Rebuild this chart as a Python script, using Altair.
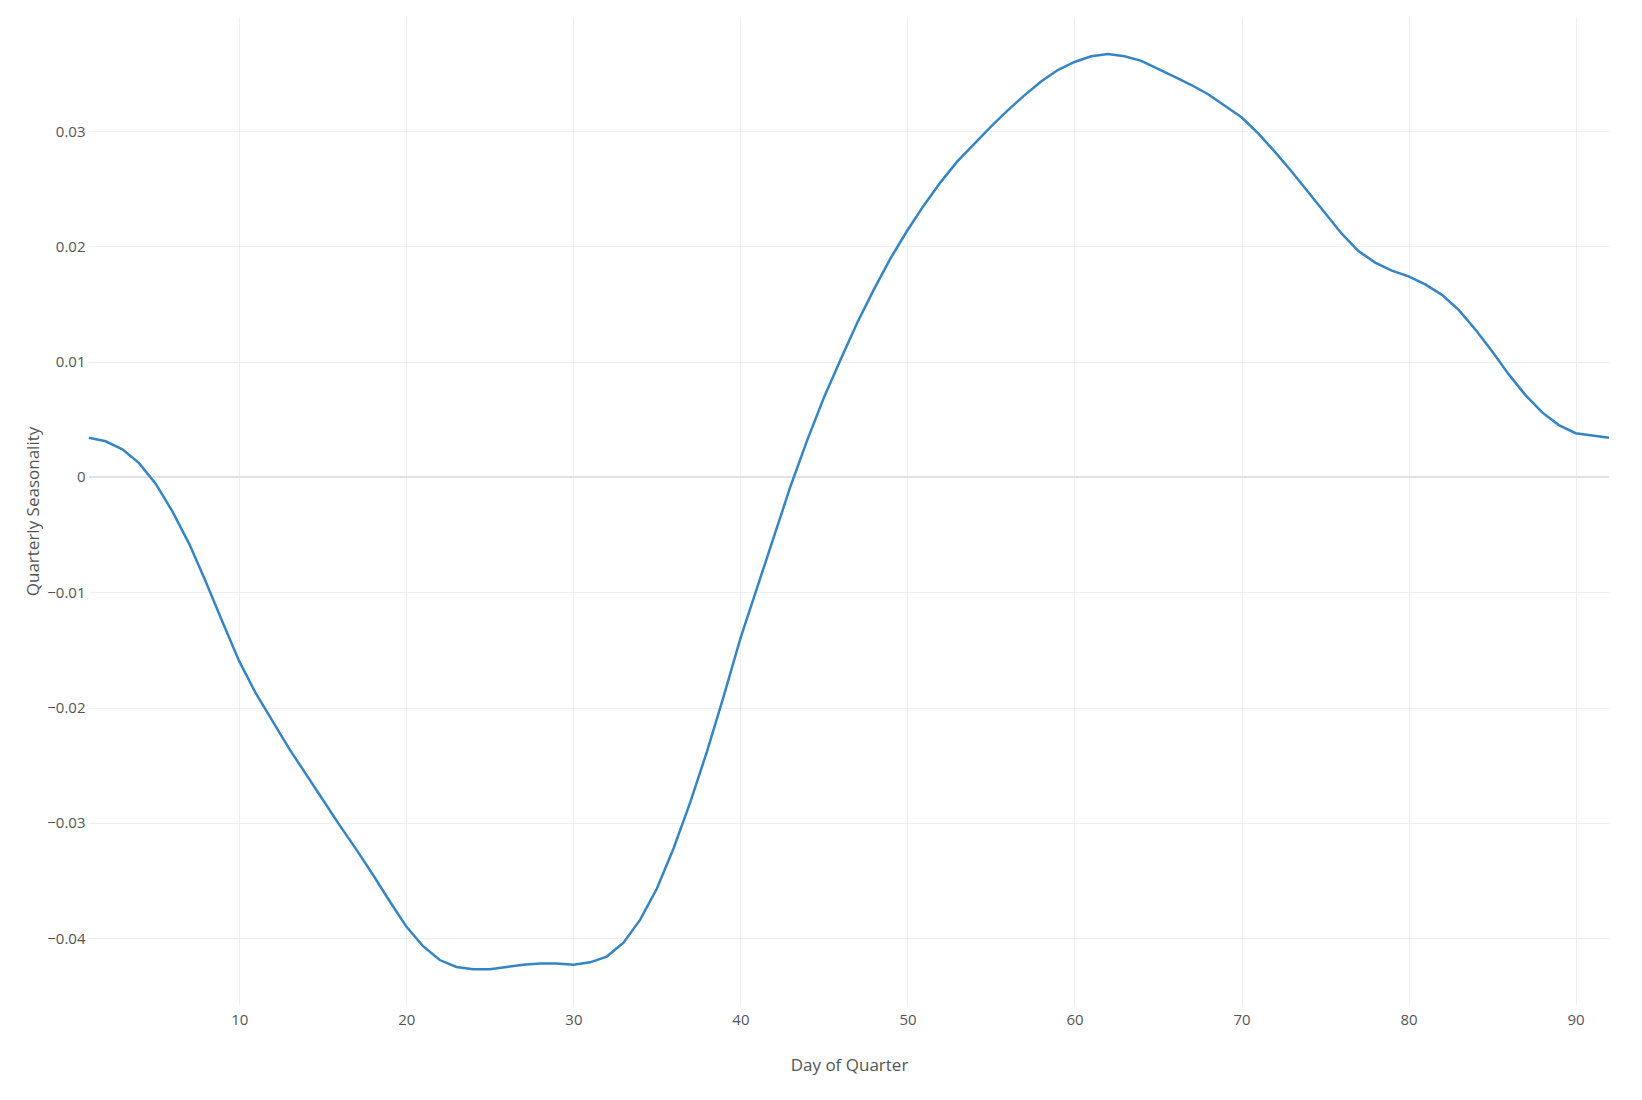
import altair as alt
import pandas as pd

days = list(range(1, 93))
seasonality = [
    0.0034, 0.0031, 0.0024, 0.0012, -0.0006, -0.0030, -0.0058, -0.0091, -0.0126, -0.0160,
    -0.0188, -0.0212, -0.0236, -0.0258, -0.0280, -0.0302, -0.0323, -0.0345, -0.0368, -0.0390,
    -0.0407, -0.0419, -0.0425, -0.0427, -0.0427, -0.0425, -0.0423, -0.0422, -0.0422, -0.0423,
    -0.0421, -0.0416, -0.0404, -0.0384, -0.0357, -0.0322, -0.0282, -0.0238, -0.0190, -0.0140,
    -0.0096, -0.0052, -0.0008, 0.0032, 0.0069, 0.0102, 0.0134, 0.0163, 0.0190, 0.0214,
    0.0236, 0.0256, 0.0274, 0.0289, 0.0304, 0.0318, 0.0331, 0.0343, 0.0353, 0.0360,
    0.0365, 0.0367, 0.0365, 0.0361, 0.0354, 0.0347, 0.0340, 0.0332, 0.0322, 0.0312,
    0.0298, 0.0282, 0.0265, 0.0247, 0.0229, 0.0211, 0.0196, 0.0186, 0.0179, 0.0174,
    0.0167, 0.0158, 0.0145, 0.0128, 0.0109, 0.0089, 0.0071, 0.0056, 0.0045, 0.0038,
    0.0036, 0.0034,
]
x_ticks = [10, 20, 30, 40, 50, 60, 70, 80, 90]
y_ticks = [-0.04, -0.03, -0.02, -0.01, 0, 0.01, 0.02, 0.03]

df = pd.DataFrame({"day": days, "value": seasonality})
zero_df = pd.DataFrame({"value": [0]})

FONT = "Open Sans"
LABEL_COLOR = "#555555"

x_enc = alt.X(
    "day:Q",
    title="Day of Quarter",
    scale=alt.Scale(domain=[1, 92], nice=False, zero=False),
    axis=alt.Axis(
        values=x_ticks,
        grid=True,
        gridColor="#efefef",
        gridWidth=1,
        domain=False,
        ticks=False,
        labelPadding=7,
        labelFont=FONT,
        labelFontSize=15,
        labelColor=LABEL_COLOR,
        titleFont=FONT,
        titleFontSize=17,
        titleFontWeight="normal",
        titleColor=LABEL_COLOR,
        titlePadding=30,
    ),
)

y_enc = alt.Y(
    "value:Q",
    title="Quarterly Seasonality",
    scale=alt.Scale(domain=[-0.0458, 0.0399], nice=False, zero=False),
    axis=alt.Axis(
        values=y_ticks,
        format=".2~f",
        grid=True,
        gridColor="#efefef",
        gridWidth=1,
        domain=False,
        ticks=False,
        labelPadding=4,
        labelFont=FONT,
        labelFontSize=15,
        labelColor=LABEL_COLOR,
        titleFont=FONT,
        titleFontSize=17,
        titleFontWeight="normal",
        titleColor=LABEL_COLOR,
        titlePadding=4,
    ),
)

zero_rule = alt.Chart(zero_df).mark_rule(color="#e2e2e2", strokeWidth=2).encode(
    y=alt.Y("value:Q")
)

line = alt.Chart(df).mark_line(color="#3585c5", strokeWidth=2.5).encode(x=x_enc, y=y_enc)

chart = (
    alt.layer(zero_rule, line)
    .properties(
        width=1520,
        height=988,
        autosize=alt.AutoSizeParams(type="none"),
        padding={"left": 81, "top": 9, "right": 20, "bottom": 80},
        background="white",
    )
    .configure_view(stroke=None)
)

chart.save("out.html", embed_options={"renderer": "svg", "actions": False})
